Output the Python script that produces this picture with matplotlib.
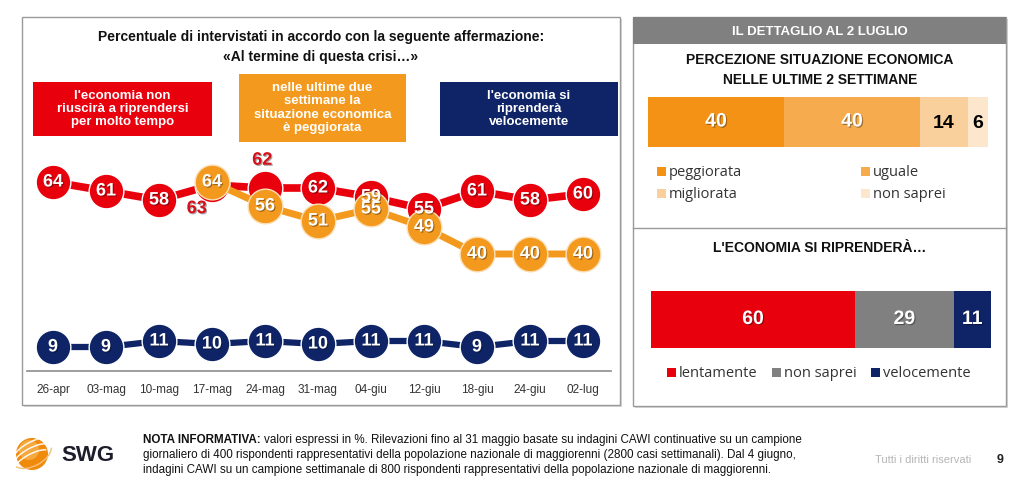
import matplotlib
matplotlib.use('Agg')
import matplotlib.pyplot as plt
import matplotlib.patheffects as pe
from matplotlib.patches import Rectangle, Circle, Arc
import numpy as np

plt.rcParams['font.family'] = ['Liberation Sans', 'DejaVu Sans']

# --- data -------------------------------------------------------------
dates = ['26-apr', '03-mag', '10-mag', '17-mag', '24-mag', '31-mag',
         '04-giu', '12-giu', '18-giu', '24-giu', '02-lug']
lento = [64, 61, 58, 63, 62, 62, 59, 55, 61, 58, 60]
peggiorata = [np.nan, np.nan, np.nan, 64, 56, 51, 55, 49, 40, 40, 40]
veloce = [9, 9, 11, 10, 11, 10, 11, 11, 9, 11, 11]

perc_labels = ['peggiorata', 'uguale', 'migliorata', 'non saprei']
perc_values = [40, 40, 14, 6]
ripresa_labels = ['lentamente', 'non saprei', 'velocemente']
ripresa_values = [60, 29, 11]

RED = '#E8000D'
ORANGE = '#F39A1E'
NAVY = '#0E2466'
GREY = '#808080'
perc_colors = ['#F39214', '#F5AB4E', '#F9CF9C', '#FCE6CC']
ripresa_colors = [RED, GREY, NAVY]

W, H = 1024, 481


def frac(x0, y0, x1, y1):
    return [x0 / W, 1 - y1 / H, (x1 - x0) / W, (y1 - y0) / H]


fig = plt.figure(figsize=(W / 100, H / 100), dpi=100)
bg = fig.add_axes([0, 0, 1, 1])
bg.set_xlim(0, W)
bg.set_ylim(H, 0)
bg.axis('off')

# panels with soft shadow
for x0, y0, x1, y1 in [(22, 18, 620, 406), (633, 18, 1006, 407)]:
    bg.add_patch(Rectangle((x0 + 2, y0 + 2), x1 - x0, y1 - y0, fc='#d9d9d9', ec='none'))
    bg.add_patch(Rectangle((x0, y0), x1 - x0, y1 - y0, fc='white', ec='#9a9a9a', lw=1))

# left panel title and legend boxes
bg.text(321, 37, 'Percentuale di intervistati in accordo con la seguente affermazione:',
        ha='center', va='center', fontsize=10, fontweight='bold', color='#111111')
bg.text(321, 57, '«Al termine di questa crisi…»', ha='center', va='center',
        fontsize=10, fontweight='bold', color='#111111')

boxes = [((33, 83, 212, 137), RED, "l'economia non\nriuscirà a riprendersi\nper molto tempo"),
         ((239, 75, 406, 143), ORANGE, "nelle ultime due\nsettimane la\nsituazione economica\nè peggiorata"),
         ((440, 83, 618, 137), NAVY, "l'economia si\nriprenderà\nvelocemente")]
for (x0, y0, x1, y1), c, t in boxes:
    bg.add_patch(Rectangle((x0, y0), x1 - x0, y1 - y0, fc=c, ec='none'))
    bg.text((x0 + x1) / 2, (y0 + y1) / 2 - 1, t, ha='center', va='center', color='white',
            fontsize=9.5, fontweight='bold', linespacing=1.12)

# --- line chart -------------------------------------------------------
ax = fig.add_axes(frac(27, 150, 611, 372))
ax.patch.set_alpha(0)
x = np.arange(len(dates))
ax.set_xlim(-0.49, 10.53)
ax.set_ylim(1, 75)

ms = 25
ax.plot(x, veloce, color=NAVY, lw=4.5, marker='o', ms=ms, mfc=NAVY, mec='white', mew=1, zorder=2)
ax.plot(x, lento, color=RED, lw=5.5, marker='o', ms=ms, mfc=RED, mec='white', mew=1, zorder=3)
ax.plot(x, peggiorata, color=ORANGE, lw=5, marker='o', ms=ms, mfc=ORANGE, mec='#fbe0b8', mew=1, zorder=4)

shadow = [pe.withSimplePatchShadow(offset=(0.8, -0.8), shadow_rgbFace='black', alpha=0.35)]
lab_kw = dict(ha='center', va='center', fontsize=13, fontweight='bold', color='white',
              path_effects=shadow, zorder=6)
for i, v in enumerate(lento):
    if i == 3:
        ax.annotate(str(v), (x[i], v), xytext=(-11, -17), textcoords='offset points',
                    ha='center', va='center', fontsize=13, fontweight='bold',
                    color='#D8101C', path_effects=shadow, zorder=6)
    elif i == 4:
        ax.annotate(str(v), (x[i], v), xytext=(-2, 20), textcoords='offset points',
                    ha='center', va='center', fontsize=13, fontweight='bold',
                    color='#D8101C', path_effects=shadow, zorder=6)
    else:
        ax.text(x[i], v, str(v), **lab_kw)
for i, v in enumerate(peggiorata):
    if not np.isnan(v):
        ax.text(x[i], v, str(int(v)), **lab_kw)
for i, v in enumerate(veloce):
    ax.text(x[i], v, str(v), **lab_kw)

for s in ['top', 'left', 'right']:
    ax.spines[s].set_visible(False)
ax.spines['bottom'].set_color('#8c8c8c')
ax.spines['bottom'].set_linewidth(1.2)
ax.set_yticks([])
ax.set_xticks(x)
ax.set_xticklabels(dates, fontsize=8.5, color='#333333')
ax.tick_params(axis='x', length=0, pad=9)

# --- right panel ------------------------------------------------------
bg.add_patch(Rectangle((633, 18), 373, 27, fc='#808080', ec='none'))
bg.text(820, 32, 'IL DETTAGLIO AL 2 LUGLIO', ha='center', va='center', color='white',
        fontsize=9.5, fontweight='bold')
bg.text(820, 60, 'PERCEZIONE SITUAZIONE ECONOMICA', ha='center', va='center',
        fontsize=10, fontweight='bold', color='#111111')
bg.text(820, 80, 'NELLE ULTIME 2 SETTIMANE', ha='center', va='center',
        fontsize=10, fontweight='bold', color='#111111')
bg.plot([633, 1006], [229, 229], color='#9a9a9a', lw=1)
bg.text(820, 248, "L'ECONOMIA SI RIPRENDERÀ…", ha='center', va='center',
        fontsize=10, fontweight='bold', color='#111111')


def stacked(rect, values, colors, txt_colors):
    a = fig.add_axes(frac(*rect))
    left = 0
    for v, c, tc in zip(values, colors, txt_colors):
        a.barh(0, v, left=left, height=1, color=c, edgecolor='none')
        a.text(left + v / 2, 0, str(v), ha='center', va='center', fontsize=14,
               fontweight='bold', color=tc,
               path_effects=shadow if tc == 'white' else None)
        left += v
    a.set_xlim(0, 100)
    a.set_ylim(-0.5, 0.5)
    a.axis('off')


stacked((648, 98, 988, 148), perc_values, perc_colors, ['white', 'white', 'black', 'black'])
stacked((651, 292, 991, 349), ripresa_values, ripresa_colors, ['white', 'white', 'white'])

# legends
leg_font = ['Open Sans', 'DejaVu Sans']
leg1 = [(662, 173), (866, 173), (662, 195), (866, 195)]
for (lx, ly), lab, c in zip(leg1, perc_labels, perc_colors):
    bg.add_patch(Rectangle((lx - 5, ly - 5), 9, 9, fc=c, ec='none'))
    bg.text(lx + 7, ly, lab, ha='left', va='center', fontsize=10.5, color='#333333',
            family=leg_font)
leg2 = [(672, 374), (777, 374), (876, 374)]
for (lx, ly), lab, c in zip(leg2, ripresa_labels, ripresa_colors):
    bg.add_patch(Rectangle((lx - 5, ly - 5), 9, 9, fc=c, ec='none'))
    bg.text(lx + 7, ly, lab, ha='left', va='center', fontsize=10.5, color='#333333',
            family=leg_font)

# --- footer -----------------------------------------------------------
bg.add_patch(Circle((32, 455), 16, fc='#F08A0C', ec='none'))
bg.add_patch(Circle((29, 451), 10, fc='#F7AE48', ec='none', alpha=0.85))
for dy in (-5, 1, 7):
    bg.add_patch(Arc((32, 455 + dy), 40, 14, angle=-28, theta1=190, theta2=350,
                     color='white', lw=1.1, alpha=0.9))
bg.add_patch(Arc((32, 455), 42, 24, angle=-28, theta1=10, theta2=170, color='#f5c07a', lw=1))
bg.text(61, 456, 'SWG', ha='left', va='center', fontsize=16, fontweight='bold', color='#1d1d2b')

fs_note = 8.4
nota = bg.text(143, 440, 'NOTA INFORMATIVA:', ha='left', va='center', fontsize=fs_note,
               fontweight='bold', color='#111111')
fig.canvas.draw()
bb = nota.get_window_extent(renderer=fig.canvas.get_renderer())
bg.text(bb.x1 + 3, 440, 'valori espressi in %. Rilevazioni fino al 31 maggio basate su indagini CAWI '
        'continuative su un campione', ha='left', va='center', fontsize=fs_note,
        color='#111111')
bg.text(143, 455, 'giornaliero di 400 rispondenti rappresentativi della popolazione nazionale di '
        'maggiorenni (2800 casi settimanali). Dal 4 giugno,', ha='left', va='center',
        fontsize=fs_note, color='#111111')
bg.text(143, 470, 'indagini CAWI su un campione settimanale di 800 rispondenti rappresentativi '
        'della popolazione nazionale di maggiorenni.', ha='left', va='center',
        fontsize=fs_note, color='#111111')
bg.text(875, 460, 'Tutti i diritti riservati', ha='left', va='center', fontsize=8,
        color='#b5b5b5')
bg.text(1000, 460, '9', ha='center', va='center', fontsize=9, fontweight='bold', color='#222222')

fig.savefig('out.png', dpi=100)
